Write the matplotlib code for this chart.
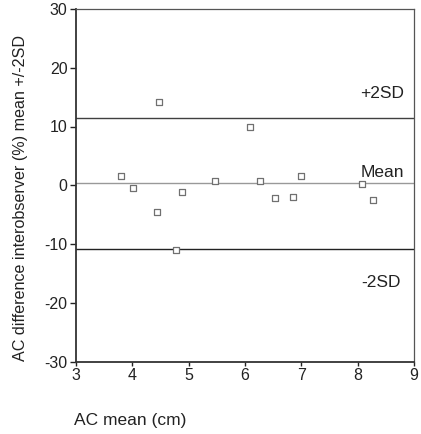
import matplotlib
matplotlib.use("Agg")
import matplotlib.pyplot as plt

plt.rcParams['font.family'] = ['Liberation Sans', 'DejaVu Sans']
plt.rcParams['axes.unicode_minus'] = False

ac_mean = [3.80, 4.01, 4.47, 4.88, 5.46, 6.09, 6.26, 6.54, 6.85, 7.00, 8.07, 8.28, 4.43, 4.77]
ac_diff = [1.6, -0.4, 14.1, -1.2, 0.8, 9.9, 0.8, -2.2, -2.0, 1.6, 0.2, -2.5, -4.5, -11.1]
mean_line = 0.4
upper_sd = 11.5
lower_sd = -10.9
xticks = [3, 4, 5, 6, 7, 8, 9]
yticks = [-30, -20, -10, 0, 10, 20, 30]

fig = plt.figure(figsize=(4.21, 4.34), dpi=100)
ax = fig.add_axes([76/421, 1-361.5/434, (414-76)/421, (361.5-9)/434])

ax.axhline(upper_sd, color='#404040', lw=1.0)
ax.axhline(mean_line, color='#999999', lw=1.0)
ax.axhline(lower_sd, color='#222222', lw=1.0)

ax.scatter(ac_mean, ac_diff, marker='s', s=16, facecolors='white', edgecolors='#707070', linewidths=0.9, zorder=3)

ax.text(8.82, 15.7, '+2SD', ha='right', va='center', fontsize=12.5, color='#222222')
ax.text(8.82, 1.4, 'Mean', ha='right', va='baseline', fontsize=12.5, color='#222222')
ax.text(8.76, -16.6, '-2SD', ha='right', va='center', fontsize=12.5, color='#222222')

ax.set_xlim(3, 9)
ax.set_ylim(-30, 30)
ax.set_xticks(xticks)
ax.set_yticks(yticks)
ax.tick_params(direction='out', width=1, labelsize=11.5, colors='#222222')
ax.tick_params(axis='y', length=4, pad=2)
ax.tick_params(axis='x', length=3, pad=1.5)

for s in ['left', 'bottom']:
    ax.spines[s].set_color('#333333')
    ax.spines[s].set_linewidth(1.3)
for s in ['top', 'right']:
    ax.spines[s].set_color('#555555')
    ax.spines[s].set_linewidth(0.9)

fig.text(74/421, 1-420/434, 'AC mean (cm)', ha='left', va='center', fontsize=12.5, color='#222222')
fig.text(21/421, 1-198/434, 'AC difference interobserver (%) mean +/-2SD', rotation=90,
         ha='center', va='center', fontsize=11.6, color='#222222')

fig.savefig('out.png', dpi=100)
